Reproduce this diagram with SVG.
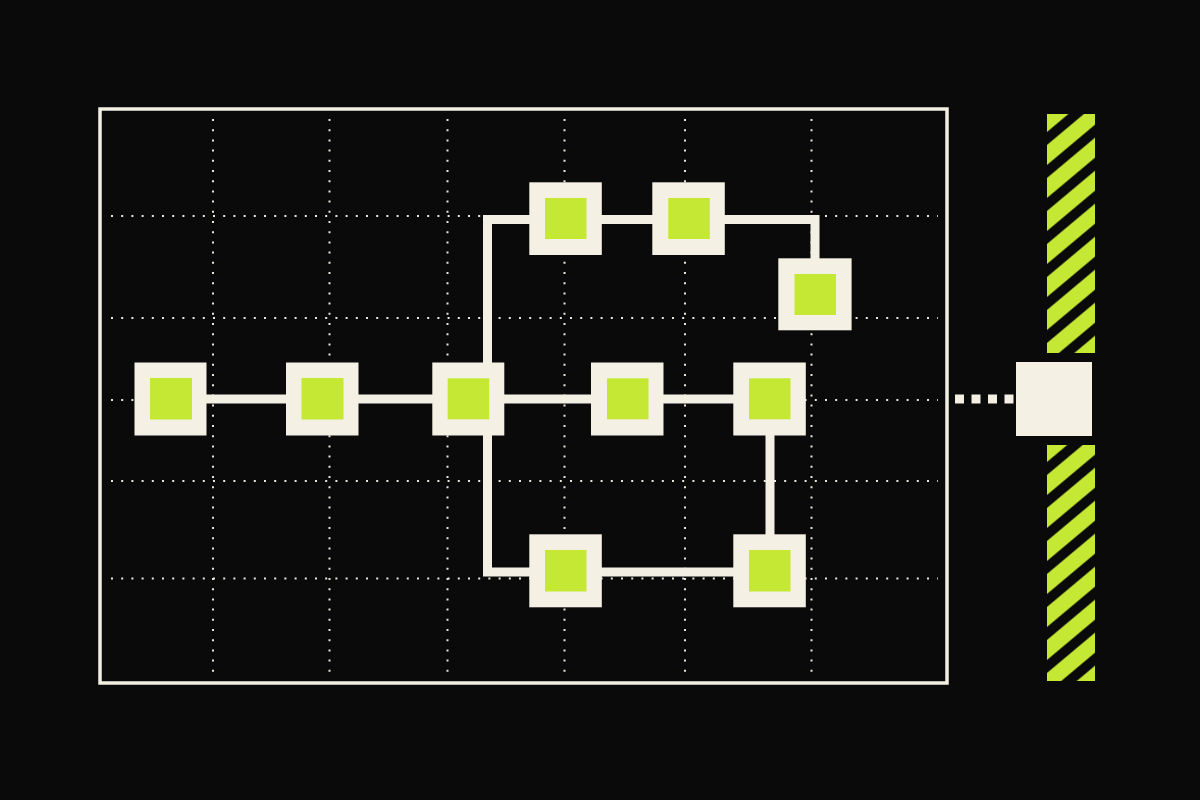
<svg xmlns="http://www.w3.org/2000/svg" width="1200" height="800" viewBox="0 0 1200 800">
  <style>
    .grid { stroke: #e9e6dc; stroke-width: 2; stroke-dasharray: 2 8.2; fill: none; }
    .frame { fill: none; stroke: #f3efe3; stroke-width: 3.5; }
    .wire { fill: none; stroke: #f3efe3; stroke-width: 9; stroke-linejoin: miter; stroke-linecap: butt; }
    .outer { fill: #f4f0e4; }
    .inner { fill: #c4e834; }
    .stripes { fill: url(#hatch); }
  </style>
  <defs>
    <pattern id="hatch" patternUnits="userSpaceOnUse" width="33" height="33" patternTransform="skewY(-40)">
      <rect x="0" y="0" width="33" height="33" fill="#0a0a0a"/>
      <rect x="0" y="0.5" width="33" height="20" fill="#c4e834"/>
    </pattern>
  </defs>

  <rect x="0" y="0" width="1200" height="800" fill="#0a0a0a"/>

  <g id="grid">
    <line class="grid" x1="213" y1="119" x2="213" y2="677"/>
    <line class="grid" x1="329.5" y1="119" x2="329.5" y2="677"/>
    <line class="grid" x1="447.5" y1="119" x2="447.5" y2="677"/>
    <line class="grid" x1="564.5" y1="119" x2="564.5" y2="677"/>
    <line class="grid" x1="685" y1="119" x2="685" y2="677"/>
    <line class="grid" x1="811.5" y1="119" x2="811.5" y2="677"/>
    <line class="grid" x1="111" y1="216" x2="938" y2="216"/>
    <line class="grid" x1="111" y1="318" x2="938" y2="318"/>
    <line class="grid" x1="111" y1="400" x2="938" y2="400"/>
    <line class="grid" x1="111" y1="481" x2="938" y2="481"/>
    <line class="grid" x1="111" y1="578.5" x2="938" y2="578.5"/>
  </g>

  <rect id="frame" class="frame" x="100" y="109" width="847" height="574"/>

  <g id="connectors">
    <path class="wire" d="M170.5 399 H769.5"/>
    <path class="wire" d="M487.5 399 V219.5 H815 V294"/>
    <path class="wire" d="M487.5 399 V572 H770 V399"/>
    <path class="wire" d="M955 399 H1016" stroke-dasharray="9 7.5"/>
  </g>

  <g id="n1"><rect class="outer" x="134.5" y="362.5" width="72" height="73"/><rect class="inner" x="150" y="378" width="42" height="41.5"/></g>
  <g id="n2"><rect class="outer" x="286" y="362.5" width="72.5" height="73"/><rect class="inner" x="301.5" y="378" width="42" height="41.5"/></g>
  <g id="n3"><rect class="outer" x="432.3" y="362.5" width="72" height="73"/><rect class="inner" x="447.7" y="378.3" width="41.5" height="41"/></g>
  <g id="n4"><rect class="outer" x="591" y="362.5" width="72.5" height="73"/><rect class="inner" x="607" y="378.3" width="41.5" height="41"/></g>
  <g id="n5"><rect class="outer" x="733.3" y="362.5" width="72.5" height="73"/><rect class="inner" x="749" y="378.3" width="41.5" height="41"/></g>
  <g id="nA"><rect class="outer" x="529.3" y="182.3" width="72.5" height="72.7"/><rect class="inner" x="545" y="198" width="41.5" height="41"/></g>
  <g id="nB"><rect class="outer" x="652.3" y="182.3" width="72.5" height="72.7"/><rect class="inner" x="668.3" y="198" width="41.5" height="41"/></g>
  <g id="nC"><rect class="outer" x="778.3" y="258.3" width="73.3" height="72"/><rect class="inner" x="794.5" y="274" width="41.5" height="41"/></g>
  <g id="nD"><rect class="outer" x="529.3" y="534.3" width="72.5" height="73"/><rect class="inner" x="545" y="550" width="41.5" height="41.5"/></g>
  <g id="nE"><rect class="outer" x="733.3" y="534.3" width="72.5" height="73"/><rect class="inner" x="749" y="550" width="41.5" height="41.5"/></g>

  <g id="hatch-bar">
    <rect class="stripes" x="1047" y="114" width="48" height="239"/>
    <rect class="stripes" x="1047" y="445" width="48" height="236"/>
  </g>

  <g id="port"><rect class="outer" x="1016" y="362" width="76" height="74"/></g>
</svg>
